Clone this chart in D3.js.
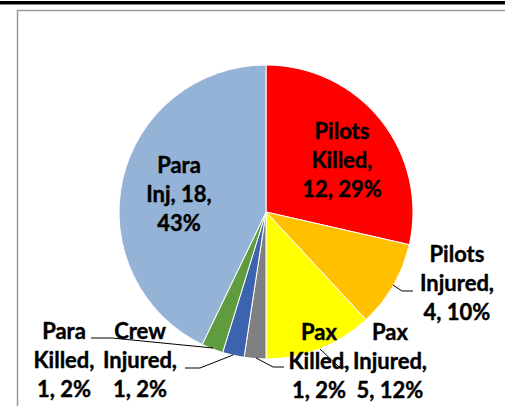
<!DOCTYPE html>
<html>
<head>
	<title>Pie</title>
	<style type="text/css">
		body { margin: 0; background: #fff; }
		text {
		 font-family: "Lato", "Liberation Sans", sans-serif;
		 font-size: 22px;
		 font-weight: 700;
		 fill: #000;
		 stroke: #000;
		 stroke-width: 0.4px;
		}
	</style>
</head>
<body>
	<svg></svg>
	<script src="https://cdnjs.cloudflare.com/ajax/libs/d3/7.8.5/d3.min.js"></script>
	<script type="text/javascript">
		var names = ['Pilots Killed', 'Pilots Injured', 'Pax Injured', 'Pax Killed', 'Crew Injured', 'Para Killed', 'Para Inj'];
		var values = [12, 4, 5, 1, 1, 1, 18];
		var colors = ['#ff0000', '#ffc000', '#ffff00', '#808080', '#3c64ae', '#5f9c3f', '#95b3d7'];

		// label lines as shown on the chart
		var labelLines = [
			['Pilots', 'Killed,', '12, 29%'],
			['Pilots', 'Injured,', '4, 10%'],
			['Pax', 'Injured,', '5, 12%'],
			['Pax', 'Killed,', '1, 2%'],
			['Crew', 'Injured,', '1, 2%'],
			['Para', 'Killed,', '1, 2%'],
			['Para', 'Inj, 18,', '43%']
		];
		// label centre x and first baseline
		var labelPos = [[342, 139], [457, 262], [390, 340], [319, 340], [140, 339], [64, 339], [179, 173]];
		// leader lines (null = label inside the slice)
		var leaders = [
			null,
			[[393, 285], [402, 291], [413, 291]],
			[[320, 349], [339, 367], [347, 367]],
			[[256, 358], [273, 367], [284, 367]],
			[[233, 355], [200, 368], [185, 368]],
			[[213, 348], [112, 338], [91, 338]],
			null
		];

		var width = 505, height = 406;
		var cx = 266, cy = 212, radius = 147;

		var svg = d3.select('svg')
			.attr('width', width)
			.attr('height', height);

		svg.append('rect')
			.attr('x', 0).attr('y', 1)
			.attr('width', width).attr('height', 3)
			.attr('fill', '#000');
		svg.append('line')
			.attr('x1', 0).attr('x2', width)
			.attr('y1', 4.5).attr('y2', 4.5)
			.attr('stroke', '#888');

		svg.append('rect')
			.attr('x', 17.5).attr('y', 10.5)
			.attr('width', 600).attr('height', 600)
			.attr('fill', 'none')
			.attr('stroke', '#9a9a9a')
			.attr('stroke-width', 1.5);

		var pie = d3.pie().sort(null).value(function(d) { return d; });
		var arc = d3.arc().innerRadius(0).outerRadius(radius);

		var g = svg.append('g')
			.attr('transform', 'translate(' + cx + ',' + cy + ')');

		g.selectAll('path').data(pie(values))
			.enter()
			.append('path')
			.attr('d', arc)
			.attr('fill', function(d, i) { return colors[i]; })
			.attr('stroke', '#fff')
			.attr('stroke-width', 1);

		var line = d3.line();
		svg.selectAll('.leader').data(leaders.filter(function(d) { return d; }))
			.enter()
			.append('path')
			.attr('class', 'leader')
			.attr('d', line)
			.attr('fill', 'none')
			.attr('stroke', '#000')
			.attr('stroke-width', 1);

		var labels = svg.selectAll('.label').data(names)
			.enter()
			.append('text')
			.attr('class', 'label')
			.attr('text-anchor', 'middle');

		labels.each(function(d, i) {
			var t = d3.select(this);
			labelLines[i].forEach(function(s, k) {
				t.append('tspan')
					.attr('x', labelPos[i][0])
					.attr('y', labelPos[i][1] + k * 29)
					.text(s);
			});
		});
	</script>
</body>
</html>
